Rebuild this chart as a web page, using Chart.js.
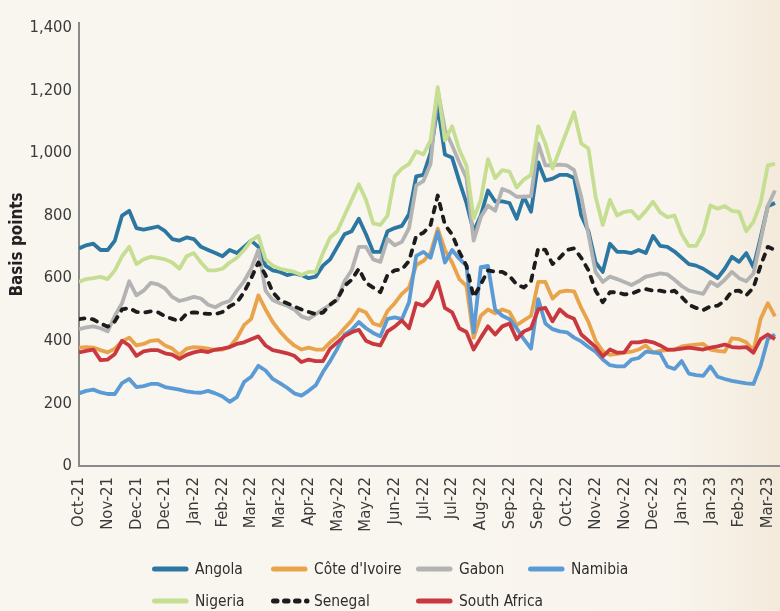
<!DOCTYPE html>
<html>
<head>
<meta charset="utf-8">
<script src="https://cdn.jsdelivr.net/npm/chart.js@4.4.1/dist/chart.umd.min.js"></script>
<style>
html,body{margin:0;padding:0;background:#f9f5ee;}
canvas{display:block;}
</style>
</head>
<body>
<canvas id="c" width="780" height="611"></canvas>
<script>
const tickLabels = ['Oct-21','Nov-21','Dec-21','Dec-21','Jan-22','Feb-22','Mar-22','Mar-22','Apr-22','May-22','May-22','Jun-22','Jul-22','Jul-22','Aug-22','Sep-22','Sep-22','Oct-22','Nov-22','Nov-22','Dec-22','Jan-23','Jan-23','Feb-23','Mar-23'];
const yTickValues = [0, 200, 400, 600, 800, 1000, 1200, 1400];

const seriesNames = ['Angola', "Côte d'Ivoire", 'Gabon', 'Namibia', 'Nigeria', 'Senegal', 'South Africa'];

const angola = [695,705,710,690,690,720,800,815,760,755,760,765,750,725,720,730,725,700,690,680,670,690,680,700,720,700,640,625,620,610,615,610,600,605,640,660,700,740,750,790,740,684,684,750,760,767,805,925,930,1000,1150,995,985,910,840,750,800,880,845,845,840,790,860,812,970,912,918,930,930,920,800,750,650,620,710,684,684,680,690,680,735,703,700,685,665,645,640,630,615,600,630,668,652,680,635,730,830,840];

const coteDivoire = [378,380,378,370,363,375,398,410,385,390,400,402,385,375,355,375,380,378,375,370,372,380,408,450,470,545,500,460,430,405,385,372,378,372,372,395,414,440,465,500,490,455,448,495,520,550,570,642,655,680,758,690,650,597,575,410,480,500,488,500,492,450,465,480,588,588,535,556,560,558,505,460,400,366,355,358,362,365,372,385,362,368,370,372,382,385,388,390,372,368,365,408,405,395,368,470,520,478];

const gabon = [437,443,446,440,430,480,520,590,545,560,585,580,567,540,527,533,540,535,515,507,520,527,560,590,630,690,560,530,520,512,500,478,470,485,500,515,530,590,625,700,700,660,652,725,705,716,760,896,910,965,1200,1075,1024,970,920,720,795,832,815,885,876,860,860,862,1030,960,960,963,960,945,860,740,620,588,605,597,588,578,590,605,610,615,612,595,575,560,555,550,588,575,595,620,600,590,615,720,830,880];

const namibia = [232,240,244,235,230,230,265,278,252,255,262,262,252,248,244,238,235,234,240,232,222,205,220,268,285,320,305,278,265,250,232,225,240,258,300,335,375,420,435,460,440,425,414,470,475,469,523,671,684,665,748,650,690,662,640,427,635,639,500,480,469,440,405,375,533,455,437,430,427,410,398,380,365,340,322,318,318,340,345,365,363,360,318,310,335,295,290,288,318,285,278,272,268,264,262,320,405,420];

const nigeria = [588,597,600,604,597,625,670,700,645,660,668,665,660,650,630,670,680,650,625,625,630,650,665,690,720,735,660,640,630,625,620,610,620,620,680,730,750,800,850,900,850,775,770,800,925,950,965,1005,995,1040,1210,1040,1085,1010,960,790,850,980,920,945,940,890,915,930,1085,1030,950,1010,1070,1130,1030,1014,860,770,850,800,812,815,790,815,844,810,795,800,740,703,703,745,832,822,830,815,812,750,780,840,960,965];

const senegal = [469,472,468,455,445,462,500,505,492,490,494,491,478,470,462,487,491,488,486,485,492,510,522,555,600,650,610,555,530,520,510,500,492,485,490,515,533,575,595,630,585,570,555,610,625,628,655,735,745,770,864,770,740,684,640,540,580,625,620,620,607,580,570,590,695,690,645,665,690,695,665,625,560,523,555,555,548,550,560,565,560,560,555,560,540,515,505,498,510,512,528,558,560,545,570,640,700,690];

const southAfrica = [363,368,372,338,340,358,400,385,352,366,370,370,360,356,342,355,363,368,364,372,375,380,390,395,405,414,385,370,365,360,352,332,340,335,335,375,395,415,427,435,400,390,385,430,445,465,440,520,512,535,588,505,491,440,428,372,410,446,420,446,455,405,430,440,500,505,462,500,480,470,420,400,380,350,372,362,363,395,395,400,395,385,372,372,375,378,375,372,378,382,388,380,378,380,362,405,420,405];

const seriesValues = [angola, coteDivoire, gabon, namibia, nigeria, senegal, southAfrica];
const seriesColors = ['#2b77a2', '#e9a34b', '#b3b3b3', '#5b9bd5', '#c5de91', '#1c1c1c', '#c9383f'];

// pick the narrowest installed sans family among candidates
function pickFamily(cands) {
  const c = document.createElement('canvas').getContext('2d');
  const test = 'Oct-21 Mar-23 1,400 Basis points mmwwii';
  for (const f of cands) {
    let found = false;
    for (const fb of ['monospace', 'serif']) {
      c.font = '100px ' + fb;
      const w0 = c.measureText(test).width;
      c.font = '100px "' + f + '", ' + fb;
      const w1 = c.measureText(test).width;
      if (Math.abs(w1 - w0) > 0.5) { found = true; break; }
    }
    if (found) return f;
  }
  return 'sans-serif';
}
const FAMILY = pickFamily(['Liberation Sans Narrow', 'Arial Narrow', 'DejaVu Sans Condensed', 'Roboto', 'Liberation Sans']);
const FONT = '"' + FAMILY + '", sans-serif';

function sizeFor(text, target, weight) {
  const c = document.createElement('canvas').getContext('2d');
  c.font = (weight ? weight + ' ' : '') + '100px ' + FONT;
  const w = c.measureText(text).width;
  return Math.min(22, Math.round(target / w * 100 * 10) / 10);
}
const tickSize = sizeFor('Oct-21', 50);
const legendSize = sizeFor('South Africa', 84);
const titleSize = sizeFor('Basis points', 104, 'bold');

const bgPlugin = {
  id: 'bg',
  beforeDraw(chart) {
    const {ctx, width, height} = chart;
    const g = ctx.createLinearGradient(0, 0, width, 0);
    g.addColorStop(0, '#f9f6f0');
    g.addColorStop(0.86, '#f9f5ee');
    g.addColorStop(1, '#f3eadb');
    ctx.save();
    ctx.fillStyle = g;
    ctx.fillRect(0, 0, width, height);
    ctx.restore();
  }
};

const gridLegend = {
  id: 'gridLegend',
  afterDraw(chart) {
    const ctx = chart.ctx;
    const colX = [152, 271, 416, 528];
    const rowY = [569, 601];
    chart.data.datasets.forEach((ds, i) => {
      const row = i < 4 ? 0 : 1;
      const col = i < 4 ? i : i - 4;
      const x = colX[col], y = rowY[row];
      ctx.save();
      ctx.strokeStyle = ds.borderColor;
      ctx.lineWidth = 5;
      ctx.lineCap = 'round';
      ctx.beginPath();
      if (ds.borderDash && ds.borderDash.length) {
        ctx.setLineDash([3.5, 7.5]);
        ctx.moveTo(x + 2.5, y);
        ctx.lineTo(x + 36, y);
      } else {
        ctx.moveTo(x + 2.5, y);
        ctx.lineTo(x + 34, y);
      }
      ctx.stroke();
      ctx.setLineDash([]);
      ctx.fillStyle = '#2e2e2e';
      ctx.font = legendSize + 'px ' + FONT;
      ctx.textBaseline = 'middle';
      ctx.textAlign = 'left';
      ctx.fillText(ds.label, x + 43, y + 1);
      ctx.restore();
    });
  }
};

const datasets = seriesNames.map((name, k) => ({
  label: name,
  data: seriesValues[k].map((v, i) => ({x: i, y: v})),
  borderColor: seriesColors[k],
  backgroundColor: seriesColors[k],
  borderWidth: 3.8,
  borderDash: name === 'Senegal' ? [5.5, 7.5] : [],
  borderCapStyle: name === 'Senegal' ? 'round' : 'butt',
  borderJoinStyle: 'round',
  pointRadius: 0,
  tension: 0,
  fill: false,
  order: seriesNames.length - k
}));

new Chart(document.getElementById('c'), {
  type: 'line',
  data: { datasets },
  plugins: [bgPlugin, gridLegend],
  options: {
    responsive: false,
    animation: false,
    devicePixelRatio: 1,
    layout: { padding: { top: 23, right: 0, bottom: 0, left: 0 } },
    plugins: { legend: { display: false }, tooltip: { enabled: false } },
    scales: {
      x: {
        type: 'linear',
        min: 0,
        max: 97.7,
        grid: { display: true, drawOnChartArea: false, drawTicks: false },
        border: { display: true, color: '#8a8a8a', width: 2 },
        ticks: {
          stepSize: 4,
          includeBounds: false,
          autoSkip: false,
          maxRotation: 90,
          minRotation: 90,
          padding: 11,
          color: '#3a3a3a',
          font: { family: FONT, size: tickSize },
          callback: (v) => tickLabels[Math.round(v / 4)] ?? ''
        },
        afterBuildTicks: (s) => { s.ticks = tickLabels.map((t, i) => ({ value: i * 4 })); },
        afterFit: (s) => { s.height = 145; s.paddingLeft = 0; s.paddingRight = 0; }
      },
      y: {
        min: 0,
        max: 1415,
        grid: { display: true, drawOnChartArea: false, drawTicks: false },
        border: { display: true, color: '#8a8a8a', width: 2 },
        ticks: {
          padding: 7,
          color: '#3a3a3a',
          font: { family: FONT, size: tickSize },
          callback: (v) => v.toLocaleString('en-US')
        },
        afterBuildTicks: (s) => { s.ticks = yTickValues.map(v => ({ value: v })); },
        title: {
          display: true,
          text: 'Basis points',
          color: '#222',
          font: { family: FONT, size: titleSize, weight: 'bold' },
          padding: { top: 7, bottom: 0 }
        },
        afterFit: (s) => { s.width = 79; s.paddingTop = 0; s.paddingBottom = 0; }
      }
    }
  }
});
</script>
</body>
</html>
